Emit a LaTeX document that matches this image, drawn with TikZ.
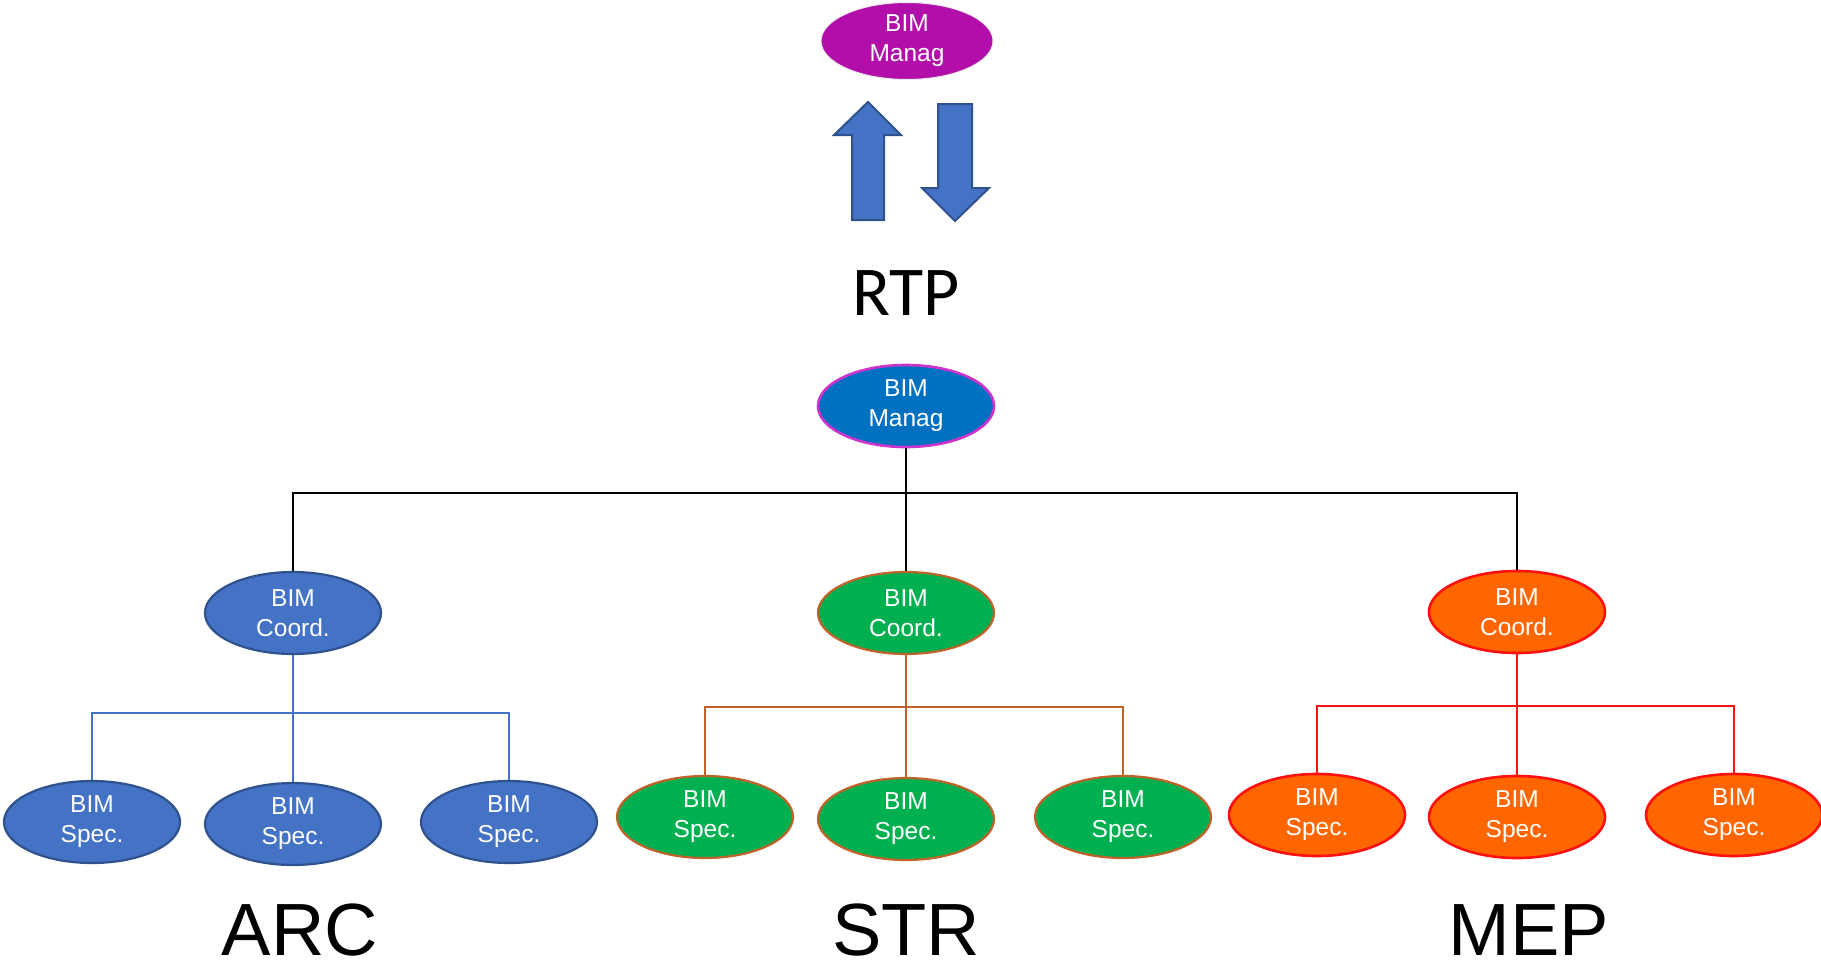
\documentclass[tikz,border=0pt]{standalone}
\usepackage{fontspec}
\setmainfont{Liberation Sans}
\newfontfamily\rtpfont{Carlito}
\usetikzlibrary{shapes.geometric}

\definecolor{plum}{HTML}{B20FAA}
\definecolor{arcfill}{HTML}{4472C4}
\definecolor{arcline}{HTML}{2F528F}
\definecolor{mgfill}{HTML}{0070C0}
\definecolor{mgline}{HTML}{CC33CC}
\definecolor{strfill}{HTML}{00B050}
\definecolor{strline}{HTML}{C0632A}
\definecolor{mepfill}{HTML}{FF6600}
\definecolor{mepline}{HTML}{FF1010}

\tikzset{
  role/.style={ellipse, minimum width=176pt, minimum height=82pt, inner sep=0pt,
    align=center, text=white, font=\fontsize{24.5}{30}\selectfont},
  arcrole/.style={role, fill=arcfill, draw=arcline, line width=2.2pt},
  strrole/.style={role, fill=strfill, draw=strline, line width=2.2pt},
  meprole/.style={role, fill=mepfill, draw=mepline, line width=2.6pt},
  group/.style={anchor=base, inner sep=0pt, font=\fontsize{74}{80}\selectfont},
  bigarrow/.style={fill=arcfill, draw=arcline, line width=2pt, line join=miter},
  trunk/.style={draw=black, line width=1.6pt},
}

\begin{document}
\begin{tikzpicture}[x=1pt, y=-1pt]
\useasboundingbox (0,0) rectangle (1821,966);

% top manager and exchange arrows
\node[role, fill=plum, draw=black!8, line width=1pt, minimum width=172pt, minimum height=77pt] (topm) at (907,41) {BIM\\Manag};
\draw[bigarrow] (868,102) -- (901,135) -- (884,135) -- (884,220) -- (852,220) -- (852,135) -- (834,135) -- cycle;
\draw[bigarrow] (938,104) -- (972,104) -- (972,188) -- (989,188) -- (955,221) -- (922,188) -- (938,188) -- cycle;
\node[anchor=base, font=\rtpfont\fontsize{70}{75}\selectfont] (rtp) at (906,315) {RTP};

% project manager
\node[role, fill=mgfill, draw=mgline, line width=2.6pt] (mg) at (906,406) {BIM\\Manag};

% coordinators
\node[arcrole] (arcC) at (293,613) {BIM\\Coord.};
\node[strrole] (strC) at (906,613) {BIM\\Coord.};
\node[meprole] (mepC) at (1517,612) {BIM\\Coord.};

% specialists
\node[arcrole] (arcS1) at (92,822) {BIM\\Spec.};
\node[arcrole] (arcS2) at (293,824) {BIM\\Spec.};
\node[arcrole] (arcS3) at (509,822) {BIM\\Spec.};
\node[strrole] (strS1) at (705,817) {BIM\\Spec.};
\node[strrole] (strS2) at (906,819) {BIM\\Spec.};
\node[strrole] (strS3) at (1123,817) {BIM\\Spec.};
\node[meprole] (mepS1) at (1317,815) {BIM\\Spec.};
\node[meprole] (mepS2) at (1517,817) {BIM\\Spec.};
\node[meprole] (mepS3) at (1734,815) {BIM\\Spec.};

% discipline labels
\node[group] (arcL) at (300,955) {ARC};
\node[group] (strL) at (906,955) {STR};
\node[group] (mepL) at (1529,955) {MEP};

% bus levels
\coordinate (topBus) at (0,493);
\coordinate (arcBus) at (0,713);
\coordinate (strBus) at (0,707);
\coordinate (mepBus) at (0,706);

% manager to coordinators
\draw[trunk] (mg.south) -- (strC.north);
\draw[trunk] (arcC.north) -- (arcC.north |- topBus) -- (mepC.north |- topBus) -- (mepC.north);

% ARC branch
\draw[arcfill, line width=1.2pt] (arcC.south) -- (arcC.south |- arcBus);
\draw[arcfill, line width=1.2pt] (arcS1.north) -- (arcS1.north |- arcBus) -- (arcS3.north |- arcBus) -- (arcS3.north);
\draw[arcfill, line width=1.2pt] (arcS2.north) -- (arcS2.north |- arcBus);

% STR branch
\draw[strline, line width=2pt] (strC.south) -- (strS2.north);
\draw[strline, line width=2pt] (strS1.north) -- (strS1.north |- strBus) -- (strS3.north |- strBus) -- (strS3.north);

% MEP branch
\draw[mepline, line width=1.6pt] (mepC.south) -- (mepS2.north);
\draw[mepline, line width=1.6pt] (mepS1.north) -- (mepS1.north |- mepBus) -- (mepS3.north |- mepBus) -- (mepS3.north);
\end{tikzpicture}
\end{document}
